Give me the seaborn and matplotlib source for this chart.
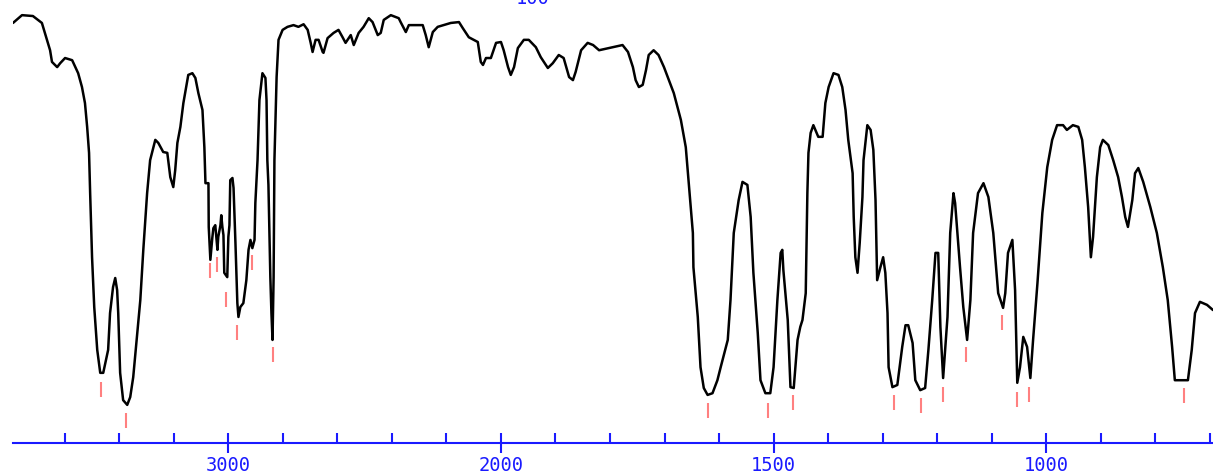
import numpy as np
import seaborn as sns
import matplotlib.pyplot as plt
from matplotlib.ticker import FixedLocator

# IR spectrum: wavenumber (cm-1) vs transmittance (%)
wavenumber = [
    3790, 3757, 3717, 3684, 3673, 3654, 3647, 3628, 3617, 3599, 3573, 3551, 3537, 3526,
    3518, 3511, 3507, 3500, 3492, 3481, 3470, 3459, 3441, 3434, 3423, 3415, 3408, 3404,
    3397, 3386, 3371, 3360, 3349, 3334, 3323, 3312, 3298, 3287, 3268, 3257, 3239, 3224,
    3213, 3202, 3195, 3187, 3176, 3165, 3147, 3132, 3121, 3110, 3095, 3088, 3084, 3073,
    3072, 3066, 3059, 3055, 3048, 3040, 3037, 3029, 3026, 3022, 3018, 3015, 3004, 3000,
    2996, 2993, 2985, 2981, 2974, 2967, 2963, 2956, 2945, 2934, 2926, 2919, 2912, 2904,
    2901, 2893, 2886, 2875, 2864, 2860, 2857, 2853, 2846, 2842, 2838, 2834, 2831, 2823,
    2816, 2801, 2783, 2761, 2743, 2724, 2709, 2698, 2691, 2680, 2669, 2654, 2651, 2636,
    2614, 2596, 2581, 2570, 2551, 2540, 2522, 2504, 2485, 2471, 2452, 2441, 2430, 2404,
    2375, 2368, 2349, 2338, 2287, 2276, 2265, 2250, 2232, 2184, 2154, 2140, 2118, 2085,
    2074, 2066, 2055, 2037, 2018, 2000, 1995, 1987, 1982, 1976, 1969, 1958, 1949, 1936,
    1927, 1914, 1905, 1894, 1885, 1875, 1868, 1863, 1853, 1841, 1831, 1820, 1802, 1777,
    1767, 1758, 1753, 1747, 1740, 1734, 1729, 1720, 1711, 1701, 1692, 1683, 1670, 1661,
    1656, 1648, 1647, 1639, 1634, 1628, 1621, 1612, 1603, 1597, 1584, 1579, 1573, 1564,
    1557, 1548, 1542, 1537, 1529, 1524, 1515, 1506, 1500, 1493, 1487, 1484, 1482, 1474,
    1469, 1463, 1456, 1451, 1447, 1441, 1438, 1436, 1432, 1427, 1418, 1410, 1405, 1399,
    1390, 1381, 1374, 1368, 1363, 1355, 1353, 1350, 1346, 1342, 1337, 1335, 1328, 1322,
    1317, 1313, 1310, 1304, 1299, 1295, 1291, 1289, 1282, 1273, 1264, 1258, 1253, 1245,
    1240, 1231, 1222, 1216, 1209, 1203, 1198, 1194, 1189, 1181, 1176, 1170, 1167, 1158,
    1152, 1145, 1139, 1134, 1125, 1115, 1106, 1097, 1088, 1079, 1075, 1070, 1062, 1057,
    1053, 1048, 1042, 1035, 1029, 1024, 1016, 1007, 998, 989, 980, 969, 962, 951,
    941, 934, 929, 923, 918, 914, 907, 901, 896, 886, 877, 868, 861, 855,
    850, 842, 837, 831, 822, 809, 797, 786, 777, 769, 764, 755, 740, 733,
    727, 718, 705, 694,
]
transmittance = [
    97.0, 98.8, 98.6, 97.0, 94.7, 90.7, 88.0, 86.8, 87.7, 88.9, 88.4, 85.4, 82.2, 78.5,
    73.0, 67.0, 57.7, 42.9, 31.4, 21.5, 16.2, 16.2, 21.5, 30.0, 36.0, 38.1, 35.3, 30.0,
    16.2, 9.9, 8.8, 10.6, 15.2, 25.4, 33.0, 44.6, 57.7, 65.3, 70.0, 69.3, 67.2, 67.0,
    61.4, 59.1, 63.0, 69.3, 73.0, 78.5, 85.0, 85.4, 84.3, 80.8, 76.9, 68.3, 60.0, 60.0,
    49.9, 42.3, 47.3, 49.6, 50.3, 44.6, 47.6, 50.3, 52.6, 49.9, 48.0, 39.3, 38.3, 47.6,
    50.3, 60.7, 61.2, 58.9, 46.2, 32.3, 29.1, 31.4, 32.3, 37.6, 44.6, 46.9, 45.0, 46.9,
    55.4, 65.3, 79.2, 85.4, 84.3, 79.2, 65.3, 59.6, 38.3, 30.0, 23.8, 38.3, 65.3, 84.5,
    93.1, 95.4, 96.1, 96.5, 96.1, 96.7, 95.4, 92.4, 90.3, 93.1, 93.1, 90.3, 90.1, 93.5,
    94.7, 95.4, 93.7, 92.4, 94.2, 91.9, 94.7, 96.1, 98.1, 97.2, 94.2, 94.7, 97.7, 98.8,
    98.1, 97.2, 94.9, 96.5, 96.5, 94.2, 91.4, 94.9, 96.1, 97.0, 97.2, 95.8, 93.7, 92.6,
    88.0, 87.3, 88.9, 88.9, 92.4, 92.6, 90.7, 86.8, 85.0, 86.8, 91.2, 93.1, 93.1, 91.4,
    89.1, 86.6, 87.7, 89.6, 88.9, 84.5, 83.8, 85.7, 90.7, 92.4, 91.9, 90.7, 91.2, 91.9,
    90.3, 86.8, 83.8, 82.2, 82.7, 86.1, 89.6, 90.7, 89.6, 86.8, 83.8, 80.8, 74.6, 68.3,
    60.7, 48.5, 40.6, 29.1, 17.5, 12.7, 11.1, 11.5, 14.5, 17.5, 23.8, 33.0, 48.5, 56.1,
    60.3, 59.6, 52.2, 39.3, 25.4, 14.5, 11.5, 11.5, 17.5, 33.0, 43.9, 44.6, 39.9, 28.4,
    12.9, 12.7, 23.8, 26.8, 28.4, 34.6, 57.7, 67.0, 71.6, 73.4, 70.7, 70.7, 78.5, 82.2,
    85.4, 85.0, 82.2, 76.9, 70.0, 62.3, 52.2, 42.9, 39.3, 46.2, 56.8, 65.3, 73.4, 72.3,
    67.7, 56.1, 37.6, 40.6, 42.9, 39.3, 30.0, 17.5, 12.9, 13.4, 22.2, 27.2, 27.2, 23.1,
    14.5, 12.2, 12.7, 21.5, 33.0, 43.9, 43.9, 26.8, 15.0, 29.1, 48.5, 57.7, 55.4, 40.6,
    31.4, 23.8, 33.0, 48.5, 57.7, 60.0, 56.8, 48.5, 34.6, 31.2, 34.6, 43.9, 46.9, 35.3,
    13.9, 17.5, 24.5, 22.2, 15.0, 23.8, 36.9, 53.1, 63.7, 70.0, 73.4, 73.4, 72.3, 73.4,
    73.0, 70.0, 63.7, 54.5, 42.9, 47.6, 61.4, 68.3, 70.0, 68.8, 65.3, 61.4, 56.8, 52.2,
    49.9, 56.1, 62.3, 63.5, 60.3, 54.5, 48.5, 40.6, 33.0, 22.2, 14.5, 14.5, 14.5, 21.5,
    30.0, 32.6, 31.9, 30.7,
]

# picked peaks (red marks under the bands)
peak_wn = [3467, 3375, 3066, 3040, 3007, 2967, 2912, 2838,
           1621, 1511, 1465, 1280, 1229, 1189, 1147, 1081, 1053, 1031, 747]
peak_level = [14.1, 6.9, 41.6, 42.9, 34.9, 27.2, 43.4, 22.2,
              9.2, 9.2, 11.1, 11.1, 10.4, 12.9, 22.2, 29.6, 11.8, 12.9, 12.7]

major_ticks = [3000, 2000, 1500, 1000]
minor_ticks = [3600, 3400, 3200, 2800, 2600, 2400, 2200,
               1900, 1800, 1700, 1600, 1400, 1300, 1200, 1100, 900, 800, 700]

BLUE = "#1a1aff"


def fwd(w):
    w = np.asarray(w, dtype=float)
    return np.where(w > 2000, 2000 + (w - 2000) / 2.0, w)


def inv(u):
    u = np.asarray(u, dtype=float)
    return np.where(u > 2000, 2000 + (u - 2000) * 2.0, u)


sns.set_style("white")
fig = plt.figure(figsize=(12.13, 4.74), dpi=100)
ax = fig.add_axes([13 / 1213, 31 / 474, 1200 / 1213, 443 / 474])

sns.lineplot(x=wavenumber, y=transmittance, color="black", linewidth=1.8,
             sort=False, estimator=None, ax=ax)

pk_top = np.array(peak_level)
ax.vlines(peak_wn, pk_top - 3.5, pk_top, color="#ff8080", linewidth=1.5)

ax.set_xscale("function", functions=(fwd, inv))
ax.set_xlim(3790, 694)
ax.set_ylim(0, 102.3)

ax.xaxis.set_major_locator(FixedLocator(major_ticks))
ax.xaxis.set_minor_locator(FixedLocator(minor_ticks))
ax.set_xticklabels([str(t) for t in major_ticks])
ax.tick_params(axis="x", which="major", direction="inout", length=15, width=1.5,
               color=BLUE, labelcolor=BLUE, labelsize=13.5, pad=2, bottom=True)
ax.tick_params(axis="x", which="minor", direction="in", length=7.5, width=1.5,
               color=BLUE, bottom=True)
for lab in ax.get_xticklabels():
    lab.set_family("DejaVu Sans Mono")
ax.set_yticks([])
ax.set_xlabel("")
ax.set_ylabel("")

for side in ["top", "left", "right"]:
    ax.spines[side].set_visible(False)
ax.spines["bottom"].set_color(BLUE)
ax.spines["bottom"].set_linewidth(1.5)

# "100" label, cut off at the top edge as in the original
fig.text(533 / 1213, 1 - 8 / 474, "100", ha="center", va="bottom", color=BLUE,
         fontsize=13.5, family="DejaVu Sans Mono")

fig.savefig("out.png", dpi=100)
